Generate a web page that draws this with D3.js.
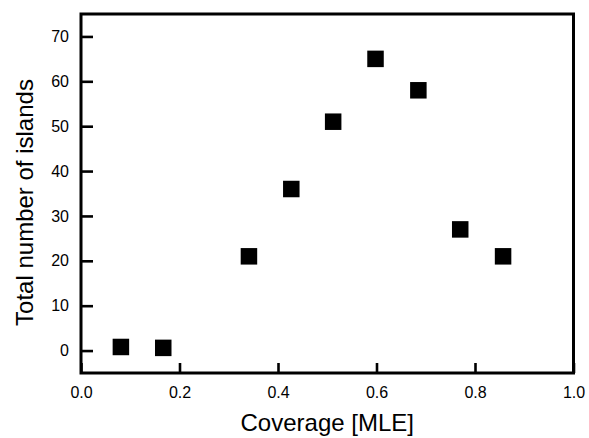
<!DOCTYPE html>
<html>
<head>
<meta charset="utf-8">
<script src="https://cdn.jsdelivr.net/npm/d3@7/dist/d3.min.js"></script>
<style>
  html, body { margin: 0; padding: 0; background: #fff; }
  svg { display: block; font-family: Arial, "Liberation Sans", Helvetica, sans-serif; }
</style>
</head>
<body>
<svg id="chart" width="589" height="438"></svg>
<script>
// Island count versus coverage
const coverage = [0.081, 0.167, 0.341, 0.427, 0.512, 0.598, 0.685, 0.770, 0.857];
const islands  = [0.8, 0.6, 21, 36, 51, 65, 58, 27, 21];
const xTicks = [0.0, 0.2, 0.4, 0.6, 0.8, 1.0];
const yTicks = [0, 10, 20, 30, 40, 50, 60, 70];
const xTitle = "Coverage [MLE]";
const yTitle = "Total number of islands";

const svg = d3.select("#chart");
const plot = { left: 81, right: 573.5, top: 14, bottom: 373 };

const x = d3.scaleLinear().domain([0, 1]).range([plot.left, plot.right]);
const y = d3.scaleLinear().domain([-5, 75]).range([plot.bottom, plot.top]);

// frame
svg.append("rect")
  .attr("x", plot.left).attr("y", plot.top)
  .attr("width", plot.right - plot.left)
  .attr("height", plot.bottom - plot.top)
  .attr("fill", "none").attr("stroke", "#000").attr("stroke-width", 3);

// x axis: inward ticks on the bottom edge
const xAxis = d3.axisBottom(x).tickValues(xTicks).tickFormat(d3.format(".1f"))
  .tickSizeInner(-10).tickSizeOuter(0).tickPadding(14);
const gx = svg.append("g").attr("transform", `translate(0,${plot.bottom})`).call(xAxis);
gx.select(".domain").remove();
gx.selectAll(".tick line").attr("stroke", "#000").attr("stroke-width", 2.6);
gx.selectAll(".tick text").attr("fill", "#000").attr("font-size", 16)
  .attr("font-family", "Arial, 'Liberation Sans', sans-serif");

// y axis: inward ticks on the left edge
const yAxis = d3.axisLeft(y).tickValues(yTicks).tickFormat(d3.format("d"))
  .tickSizeInner(-12).tickSizeOuter(0).tickPadding(12);
const gy = svg.append("g").attr("transform", `translate(${plot.left},0)`).call(yAxis);
gy.select(".domain").remove();
gy.selectAll(".tick line").attr("stroke", "#000").attr("stroke-width", 2.6);
gy.selectAll(".tick text").attr("fill", "#000").attr("font-size", 16)
  .attr("font-family", "Arial, 'Liberation Sans', sans-serif");

// data markers: filled squares
const size = 16.5;
svg.append("g").selectAll("rect")
  .data(coverage.map((c, i) => ({ c, n: islands[i] })))
  .join("rect")
  .attr("x", d => x(d.c) - size / 2)
  .attr("y", d => y(d.n) - size / 2)
  .attr("width", size).attr("height", size)
  .attr("fill", "#000");

// axis titles
svg.append("text")
  .attr("x", (plot.left + plot.right) / 2).attr("y", 431)
  .attr("text-anchor", "middle").attr("font-size", 24).attr("fill", "#000")
  .text(xTitle);

svg.append("text")
  .attr("transform", `translate(33,${202.5}) rotate(-90)`)
  .attr("text-anchor", "middle").attr("font-size", 24).attr("fill", "#000")
  .text(yTitle);
</script>
</body>
</html>
